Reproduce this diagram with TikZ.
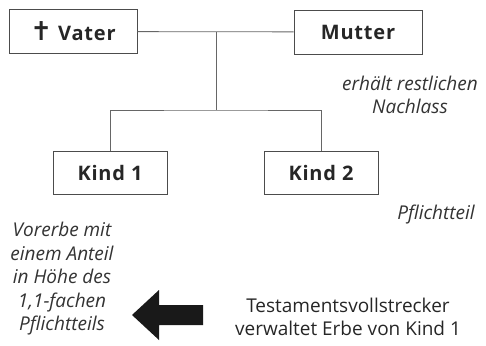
\documentclass[tikz,border=0pt]{standalone}
\usepackage{fontspec}
\setmainfont{Open Sans}
\newfontfamily\boxfont[LetterSpace=4]{Open Sans}
\newfontfamily\kreuzfont{DejaVu Sans}

\begin{document}
\begin{tikzpicture}[x=1pt,y=-1pt,
	person/.style={draw=black!70,line width=.8pt,minimum height=44pt,text=black!85,font=\boxfont\bfseries\fontsize{20}{22}\selectfont},
	notiz/.style={align=center,text=black!80,font=\itshape\fontsize{19}{23.5}\selectfont},
	linie/.style={draw=black!60,line width=.8pt}]
	\useasboundingbox (0,0) rectangle (486,345);
	% Eltern
	\node[person,minimum width=128pt] (vater) at (73,31.5) {{\kreuzfont\fontsize{26}{22}\selectfont ✝}\hspace{6pt}Vater};
	\node[person,minimum width=128pt] (mutter) at (358,32) {Mutter};
	% Kinder
	\node[person,minimum width=114pt,minimum height=43pt] (kind1) at (110,172.5) {Kind 1};
	\node[person,minimum width=114pt,minimum height=43pt] (kind2) at (321,172.5) {Kind 2};
	\coordinate (mitte) at (216,32);
	\coordinate (gabel) at (216,110);
	\draw[linie] (vater) -- (mutter);
	\draw[linie] (mitte) -- (gabel);
	\draw[linie] (kind1.north) |- (gabel) -| (kind2.north);
	% Anmerkungen
	\node[notiz] (rest) at (410,95) {erhält restlichen\\Nachlass};
	\node[notiz] (pflicht) at (436,215) {Pflichtteil};
	\node[notiz] (vorerbe) at (62,279) {Vorerbe mit\\einem Anteil\\in Höhe des\\1,1-fachen\\Pflichtteils};
	\node[align=center,text=black!85,font=\fontsize{19}{23.5}\selectfont] (tv) at (348,317) {Testamentsvollstrecker\\verwaltet Erbe von Kind 1};
	% Pfeil
	\fill[black!90] (203,305) -- (159,305) -- (159,290) -- (132,315) -- (159,340) -- (159,325) -- (203,325) -- cycle;
\end{tikzpicture}
\end{document}
